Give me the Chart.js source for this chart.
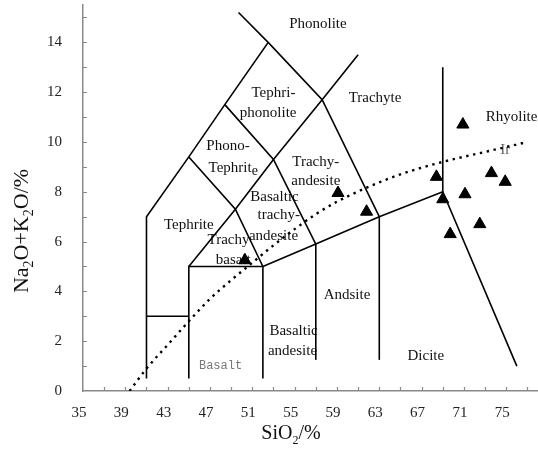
<!DOCTYPE html>
<html>
<head>
<meta charset="utf-8">
<script src="https://cdn.jsdelivr.net/npm/chart.js@4.4.0/dist/chart.umd.min.js"></script>
<style>
html, body { margin: 0; padding: 0; background: #fff; }
</style>
</head>
<body>
<canvas id="tas" width="538" height="453"></canvas>
<script>
// ================= DATA =================

const xTickLabels = [35, 39, 43, 47, 51, 55, 59, 63, 67, 71, 75];
const yTickLabels = [0, 2, 4, 6, 8, 10, 12, 14];

// sample points (SiO2, Na2O+K2O)
const sampleSiO2 = [70.9, 68.4, 69.0, 73.6, 74.9, 71.1, 72.5, 69.7, 59.1, 61.8, 50.3];
const sampleAlk  = [10.7, 8.6, 7.7, 8.75, 8.4, 7.9, 6.7, 6.3, 7.95, 7.2, 5.25];

// TAS field boundaries
const foidEdge       = [[41, 0.5], [41, 7], [45, 9.4], [48.4, 11.5], [52.5, 14], [49.7, 15.2]];
const picroTop       = [[41, 3], [45, 3]];
const basaltLeft     = [[45, 0.5], [45, 5], [52, 5]];
const basaltRight    = [[52, 0.5], [52, 5]];
const trachyEdge     = [[45, 5], [49.4, 7.3], [53, 9.3], [57.6, 11.7], [61, 13.5]];
const tephriteEdge   = [[45, 9.4], [49.4, 7.3], [52, 5]];
const phonoTephEdge  = [[48.4, 11.5], [53, 9.3], [57, 5.9]];
const phonoliteEdge  = [[52.5, 14], [57.6, 11.7], [63, 7]];
const subalkTop      = [[52, 5], [57, 5.9], [63, 7], [69, 8], [76, 1]];
const andesiteLeft   = [[57, 1.25], [57, 5.9]];
const andesiteRight  = [[63, 1.25], [63, 7]];
const rhyoliteLeft   = [[69, 8], [69, 13]];

// Irvine alkaline / subalkaline divide
const irvineSiO2 = [39.4, 41, 43, 45, 47, 49, 51, 53, 55, 57, 59, 62, 65, 69, 73, 77];
const irvineAlk  = [0, 0.9, 1.85, 2.8, 3.7, 4.45, 5.15, 5.85, 6.5, 7.1, 7.6, 8.2, 8.7, 9.2, 9.6, 10.0];

const fieldLabels = [
    { text: 'Phonolite', x: 57.2, y: 14.75 },
    { text: 'Tephri-', x: 53.0, y: 11.95 },
    { text: 'phonolite', x: 52.5, y: 11.15 },
    { text: 'Trachyte', x: 62.6, y: 11.75 },
    { text: 'Rhyolite', x: 75.5, y: 11.0 },
    { text: 'Phono-', x: 48.7, y: 9.85 },
    { parts: [['Tephrit', 0], ['e', 1]], x: 49.2, y: 8.95 },
    { text: 'Trachy-', x: 57.0, y: 9.2 },
    { text: 'andesite', x: 57.0, y: 8.43 },
    { text: 'Basaltic', x: 53.1, y: 7.8 },
    { text: 'trachy-', x: 53.5, y: 7.05 },
    { text: 'andesite', x: 53.0, y: 6.22 },
    { text: 'Tephrite', x: 45.0, y: 6.67 },
    { text: 'Trachy', x: 48.75, y: 6.06 },
    { text: 'basalt', x: 49.2, y: 5.25 },
    { text: 'Andsite', x: 59.95, y: 3.86 },
    { text: 'Basaltic', x: 54.9, y: 2.42 },
    { text: 'andesite', x: 54.8, y: 1.6 },
    { text: 'Dicite', x: 67.4, y: 1.42 },
    { text: 'Basalt', x: 48.0, y: 1.02, mono: true },
    { text: 'Ir', x: 74.9, y: 9.68, gray: true }
];

// ================= HELPERS =================

const SERIF = '"Liberation Serif", "Times New Roman", serif';

function toPoints(list){
    return list.map(p => ({ x: p[0], y: p[1] }));
}

function lineSet(list){
    return {
        data: toPoints(list),
        showLine: true,
        borderColor: '#000',
        borderWidth: 1.6,
        pointRadius: 0,
        pointHoverRadius: 0,
        fill: false
    };
}

// text with subscripts: parts = [[text, isSub], ...]
function drawRich(ctx, parts, x, y, size, color, subScale, subDrop){
    const sub = Math.round(size * (subScale || 0.62));
    const drop = subDrop || 0.32;
    ctx.save();
    ctx.fillStyle = color;
    ctx.textBaseline = 'middle';
    ctx.textAlign = 'left';
    let w = 0;
    parts.forEach(p => {
        ctx.font = (p[1] ? sub : size) + 'px ' + SERIF;
        w += ctx.measureText(p[0]).width;
    });
    let cx = x - w / 2;
    parts.forEach(p => {
        ctx.font = (p[1] ? sub : size) + 'px ' + SERIF;
        ctx.fillText(p[0], cx, y + (p[1] ? size * drop : 0));
        cx += ctx.measureText(p[0]).width;
    });
    ctx.restore();
}

function noPadding(s){
    s.paddingTop = 0;
    s.paddingBottom = 0;
    s.paddingLeft = 0;
    s.paddingRight = 0;
}

const tasExtras = {
    id: 'tasExtras',
    beforeDatasetsDraw(chart){
        const ctx = chart.ctx;
        const xs = chart.scales.x, ys = chart.scales.y;
        fieldLabels.forEach(l => {
            const px = xs.getPixelForValue(l.x);
            const py = ys.getPixelForValue(l.y);
            if (l.parts) {
                drawRich(ctx, l.parts, px, py, 15, '#111', 0.95, 0.22);
                return;
            }
            ctx.save();
            ctx.textAlign = 'center';
            ctx.textBaseline = 'middle';
            if (l.mono) {
                ctx.font = '12px "Liberation Mono", monospace';
                ctx.fillStyle = '#777';
            } else if (l.gray) {
                ctx.font = '15px ' + SERIF;
                ctx.fillStyle = '#666';
            } else {
                ctx.font = '15px ' + SERIF;
                ctx.fillStyle = '#111';
            }
            ctx.fillText(l.text, px, py);
            ctx.restore();
        });
    },
    afterDraw(chart){
        const ctx = chart.ctx;
        const xs = chart.scales.x, ys = chart.scales.y;
        const area = chart.chartArea;
        ctx.save();
        ctx.strokeStyle = '#8a8a8a';
        ctx.lineWidth = 1.2;
        ctx.beginPath();
        for (let v = 1; v <= 15; v++) {
            const py = Math.round(ys.getPixelForValue(v)) + 0.5;
            ctx.moveTo(area.left, py);
            ctx.lineTo(area.left + 4, py);
        }
        for (let v = 37; v <= 77; v += 2) {
            const px = Math.round(xs.getPixelForValue(v)) + 0.5;
            ctx.moveTo(px, area.bottom);
            ctx.lineTo(px, area.bottom - 4);
        }
        ctx.stroke();
        ctx.restore();

        // axis titles
        drawRich(ctx, [['SiO', 0], ['2', 1], ['/%', 0]], 291, 434, 20, '#111');
        ctx.save();
        ctx.translate(22, 231);
        ctx.rotate(-Math.PI / 2);
        drawRich(ctx, [['Na', 0], ['2', 1], ['O+K', 0], ['2', 1], ['O/%', 0]], 0, 0, 22, '#111');
        ctx.restore();
    }
};

// ================= CHART =================

const samples = sampleSiO2.map((v, i) => ({ x: v, y: sampleAlk[i] }));

const datasets = [
    {
        data: samples,
        pointStyle: 'triangle',
        pointRadius: 7,
        pointHoverRadius: 7,
        backgroundColor: '#000',
        borderColor: '#000',
        borderWidth: 1
    },
    {
        data: irvineSiO2.map((v, i) => ({ x: v, y: irvineAlk[i] })),
        showLine: true,
        borderColor: '#000',
        borderWidth: 2.4,
        borderDash: [2.4, 4.6],
        cubicInterpolationMode: 'monotone',
        pointRadius: 0,
        fill: false
    },
    lineSet(foidEdge),
    lineSet(picroTop),
    lineSet(basaltLeft),
    lineSet(basaltRight),
    lineSet(trachyEdge),
    lineSet(tephriteEdge),
    lineSet(phonoTephEdge),
    lineSet(phonoliteEdge),
    lineSet(subalkTop),
    lineSet(andesiteLeft),
    lineSet(andesiteRight),
    lineSet(rhyoliteLeft)
];

new Chart(document.getElementById('tas'), {
    type: 'scatter',
    data: { datasets: datasets },
    plugins: [tasExtras],
    options: {
        responsive: false,
        animation: false,
        layout: { autoPadding: false, padding: { top: 5, right: 0, bottom: 0, left: 0 } },
        plugins: {
            legend: { display: false },
            tooltip: { enabled: false }
        },
        scales: {
            x: {
                type: 'linear',
                min: 35,
                max: 78,
                grid: { display: false, drawTicks: false },
                border: { display: true, color: '#8a8a8a', width: 1.5 },
                ticks: {
                    font: { family: SERIF, size: 15 },
                    color: '#222',
                    padding: 13,
                    labelOffset: -4,
                    maxRotation: 0,
                    autoSkip: false
                },
                afterBuildTicks: s => { s.ticks = xTickLabels.map(v => ({ value: v })); },
                afterFit: s => { s.height = 62; noPadding(s); }
            },
            y: {
                type: 'linear',
                min: 0,
                max: 15.5,
                grid: { display: false, drawTicks: false },
                border: { display: true, color: '#8a8a8a', width: 1.5 },
                ticks: {
                    font: { family: SERIF, size: 15 },
                    color: '#222',
                    padding: 21,
                    autoSkip: false
                },
                afterBuildTicks: s => { s.ticks = yTickLabels.map(v => ({ value: v })); },
                afterFit: s => { s.width = 83; noPadding(s); }
            }
        }
    }
});
</script>
</body>
</html>
